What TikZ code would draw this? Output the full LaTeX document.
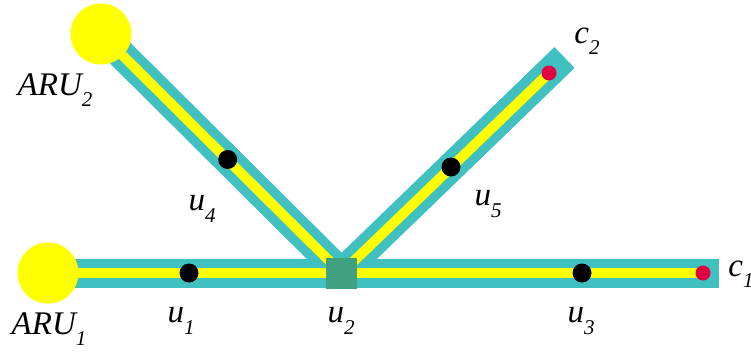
\documentclass[tikz,border=0pt]{standalone}
\usepackage{fontspec}
\setmainfont{Liberation Serif}
\definecolor{barcyan}{RGB}{64,192,192}
\definecolor{bary}{RGB}{255,255,0}
\definecolor{sqgreen}{RGB}{64,160,128}
\definecolor{endred}{RGB}{227,0,64}
\newcommand{\lab}[2]{\itshape #1\raisebox{-0.35em}{\fontsize{21}{21}\selectfont #2}}
\tikzset{
  outerbar/.style={line width=29pt, barcyan},
  innerbar/.style={line width=10pt, bary},
  aru/.style={circle, fill=bary, inner sep=0pt, minimum size=61pt},
  sw/.style={rectangle, fill=sqgreen, inner sep=0pt, minimum size=31pt},
  blk/.style={circle, fill=black, inner sep=0pt, minimum size=19pt},
  cust/.style={circle, fill=endred, inner sep=0pt, minimum size=15pt},
  lbl/.style={inner sep=0pt, font=\fontsize{33}{33}\selectfont}
}
\begin{document}
\begin{tikzpicture}[x=1pt,y=-1pt]
\useasboundingbox (0,0) rectangle (751,351);
% coordinates
\coordinate (A1) at (48,273);
\coordinate (A2) at (101,34);
\coordinate (J) at (341.5,273);
\coordinate (E1) at (719,273);
\coordinate (E2) at (564.5,57.5);
\coordinate (C1) at (703,273);
\coordinate (C2) at (549,73);
% outer bars
\draw[outerbar] (A1) -- (E1);
\draw[outerbar] (A2) -- (J);
\draw[outerbar] (J) -- (E2);
% inner bars
\draw[innerbar] (A1) -- (C1);
\draw[innerbar] (A2) -- (J);
\draw[innerbar] (J) -- (C2);
% nodes
\node[aru] (aru1) at (A1) {};
\node[aru] (aru2) at (A2) {};
\node[sw] (u2) at (J) {};
\node[blk] (u1) at (189,273) {};
\node[blk] (u3) at (582,273) {};
\node[blk] (u4) at (227.7,159.5) {};
\node[blk] (u5) at (451,167) {};
\node[cust] (c1) at (C1) {};
\node[cust] (c2) at (C2) {};
% labels
\node[lbl] (laru2) at (55,90) {\lab{ARU}{2}};
\node[lbl] (laru1) at (49,329) {\lab{ARU}{1}};
\node[lbl] (lu1) at (181,321) {\lab{u}{1}};
\node[lbl] (lu2) at (341,321) {\lab{u}{2}};
\node[lbl] (lu3) at (581,321) {\lab{u}{3}};
\node[lbl] (lu4) at (202,209) {\lab{u}{4}};
\node[lbl] (lu5) at (488,204) {\lab{u}{5}};
\node[lbl] (lc2) at (587,41) {\lab{c}{2}};
\node[lbl] (lc1) at (741,274) {\lab{c}{1}};
\end{tikzpicture}
\end{document}
